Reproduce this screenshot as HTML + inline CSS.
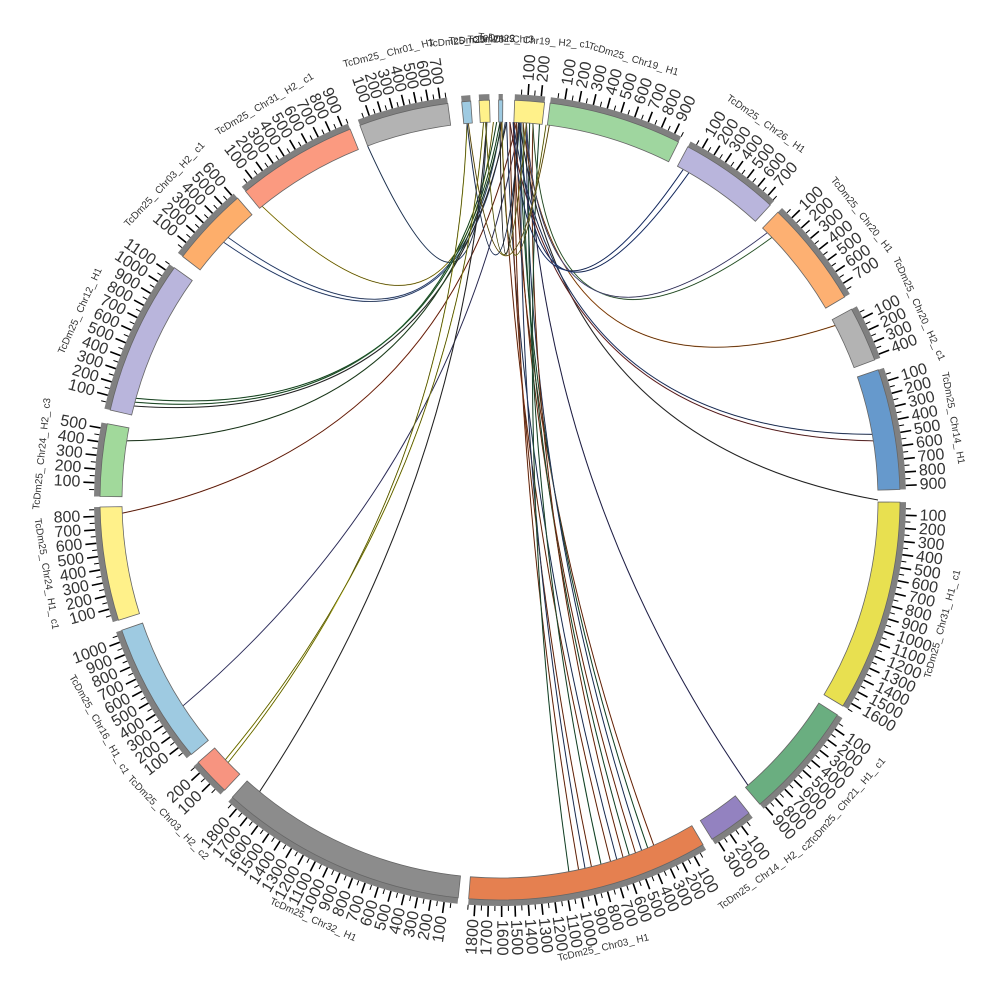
<!DOCTYPE html>
<html><head><meta charset="utf-8"><style>
html,body{margin:0;padding:0;background:#fff;}
svg{display:block;}
.nm{font-family:"Liberation Sans",sans-serif;font-size:10px;fill:#333;}
.tk{font-family:"Liberation Sans",sans-serif;font-size:16px;fill:#333;}
</style></head><body>
<svg id="s" width="1000" height="1000" viewBox="0 0 1000 1000" xmlns="http://www.w3.org/2000/svg">
<g id="links"></g>
<g id="segs"></g>
<g id="ticks"></g>
<g id="names">
<text class="nm">TcDm25_ Chr19_ H2_ c1</text>
<text class="nm">TcDm25_ Chr19_ H1</text>
<text class="nm">TcDm25_ Chr26_ H1</text>
<text class="nm">TcDm25_ Chr20_ H1</text>
<text class="nm">TcDm25_ Chr20_ H2_ c1</text>
<text class="nm">TcDm25_ Chr14_ H1</text>
<text class="nm">TcDm25_ Chr31_ H1_ c1</text>
<text class="nm">TcDm25_ Chr21_ H1_ c1</text>
<text class="nm">TcDm25_ Chr14_ H2_ c2</text>
<text class="nm">TcDm25_ Chr03_ H1</text>
<text class="nm">TcDm25_ Chr32_ H1</text>
<text class="nm">TcDm25_ Chr03_ H2_ c2</text>
<text class="nm">TcDm25_ Chr16_ H1_ c1</text>
<text class="nm">TcDm25_ Chr24_ H1_ c1</text>
<text class="nm">TcDm25_ Chr24_ H2_ c3</text>
<text class="nm">TcDm25_ Chr12_ H1</text>
<text class="nm">TcDm25_ Chr03_ H2_ c1</text>
<text class="nm">TcDm25_ Chr31_ H2_ c1</text>
<text class="nm">TcDm25_ Chr01_ H1</text>
<text class="nm">TcDm25_ Chr1</text>
<text class="nm">TcDm25_ Chr2</text>
<text class="nm">TcDm25_ Chr3</text>
</g>
</svg>
<script>
var NS="http://www.w3.org/2000/svg",C=500;
function P(a,r){var t=a*Math.PI/180;return [C+r*Math.sin(t),C-r*Math.cos(t)];}
function el(t,at,par){var e=document.createElementNS(NS,t);for(var k in at)e.setAttribute(k,at[k]);par.appendChild(e);return e;}
var S=[[2.1,6.4,'#fff18a',230],[7.2,26.5,'#9fd69f',950],[28,42.5,'#b9b5dc',760],[44,59.5,'#fdb072',790],
[61.5,69.5,'#b3b3b3',430],[71,88.5,'#6699cc',930],[90.3,121,'#e8e050',1650],[122.5,139.5,'#6aae80',920],
[141.5,148,'#9382c0',330],[149.5,184.5,'#e58050',1850],[186,222,'#8c8c8c',1880],[223.5,229,'#f79480',260],
[230.5,251,'#9ecae1',1080],[252.5,269,'#fff18a',870],[270.5,281,'#a1d99b',540],[283,305.5,'#b9b5dc',1150],
[307.5,319,'#fdae6b',620],[320.5,338,'#fb9a80',950],[339.5,352.5,'#b3b3b3',760],[354.5,355.8,'#9ecae1',60],
[357,358.5,'#fff18a',60],[359.8,360.4,'#9ecae1',30]];
var Ri=378,Ro=400,Rb=406;
var gs=document.getElementById('segs'),gt=document.getElementById('ticks');
function ann(a0,a1,r0,r1){var p1=P(a0,r1),p2=P(a1,r1),p3=P(a1,r0),p4=P(a0,r0),l=(a1-a0>180)?1:0;
return 'M'+p1+' A'+r1+','+r1+' 0 '+l+' 1 '+p2+' L'+p3+' A'+r0+','+r0+' 0 '+l+' 0 '+p4+'Z';}
S.forEach(function(s,i){
 el('path',{d:ann(s[0],s[1],Ro,Rb),fill:'#808080',stroke:'none'},gs);
 el('path',{d:ann(s[0],s[1],Ri,Ro),fill:s[2],stroke:'#666','stroke-width':0.8},gs);
 var sc=(s[1]-s[0])/s[3];
 if(s[1]-s[0]>2){
  for(var v=100;v<=s[3];v+=100){
   var a=s[0]+v*sc,p=P(a,Rb),q=P(a,Rb+11);
   el('line',{x1:p[0],y1:p[1],x2:q[0],y2:q[1],stroke:'#000','stroke-width':1.6},gt);
   var m=P(a,Rb+14),an=((a%360)+360)%360,t;
   if(an<180){t=el('text',{x:m[0],y:m[1],'class':'tk','text-anchor':'start','dominant-baseline':'central',transform:'rotate('+(an-90)+' '+m[0]+' '+m[1]+')'},gt);}
   else{t=el('text',{x:m[0],y:m[1],'class':'tk','text-anchor':'end','dominant-baseline':'central',transform:'rotate('+(an+90)+' '+m[0]+' '+m[1]+')'},gt);}
   t.textContent=String(v);
  }
  for(var v=50;v<=s[3];v+=100){var a=s[0]+v*sc,p=P(a,Rb),q=P(a,Rb+5);
   el('line',{x1:p[0],y1:p[1],x2:q[0],y2:q[1],stroke:'#000','stroke-width':1},gt);}
 }
});
var names=document.querySelectorAll('#names text');
names.forEach(function(t,i){var s=S[i],a=(s[0]+s[1])/2,an=((a%360)+360)%360,p=P(a,460);
 var rot=(an<90||an>=270)?an:an-180;
 t.setAttribute('x',p[0]);t.setAttribute('y',p[1]);t.setAttribute('text-anchor','middle');
 t.setAttribute('dominant-baseline','central');t.setAttribute('transform','rotate('+rot+' '+p[0]+' '+p[1]+')');});
var L=[[359,321,'#d4c030'],[358,339.5,'#4a6a9a'],[0.2,314,'#6080c0'],[0.8,313,'#6080c0'],[359.5,285,'#308040'],
[0,285.6,'#308040'],[1,284.4,'#404040'],[0.3,279,'#306030'],[2.5,268,'#b04020'],[3,237,'#6060a0'],
[355,226,'#c0c020'],[357.5,226.6,'#c0c020'],[358,219.5,'#404040'],
[2,156,'#c05020'],[3,157,'#308050'],[4,158,'#4060a0'],[2.5,159,'#c05020'],[3.5,160,'#308050'],[5,161,'#c05020'],
[1,162,'#4060a0'],[0.2,163,'#c05020'],[4.5,164.5,'#308050'],[1.5,166,'#c05020'],[3.2,167,'#4060a0'],[2.2,168,'#c05020'],[6,169.5,'#308050'],
[4,139,'#404080'],[3,90,'#404040'],[2,80,'#4060a0'],[1.5,81,'#a04040'],[3.5,62.5,'#d07020'],[5,46,'#60a060'],
[4,45,'#8080c0'],[2,29,'#3050a0'],[3,30,'#3050a0'],[0.3,7,'#c0c030'],[355.2,7.5,'#c0a030'],
[357.8,4,'#c0c030'],[355,3,'#4060a0'],[360,2.8,'#404040']];
var gl=document.getElementById('links');
L.forEach(function(l){var a=P(l[0],Ri),b=P(l[1],Ri);
 var mx=(a[0]+b[0])/2,my=(a[1]+b[1])/2,c=[C+0.3*(mx-C),C+0.3*(my-C)];
 var d='M'+a+' Q'+c+' '+b;
 el('path',{d:d,fill:'none',stroke:l[2],'stroke-width':1.1},gl);
 el('path',{d:d,fill:'none',stroke:'#111','stroke-width':0.5},gl);});
</script>
</body></html>
